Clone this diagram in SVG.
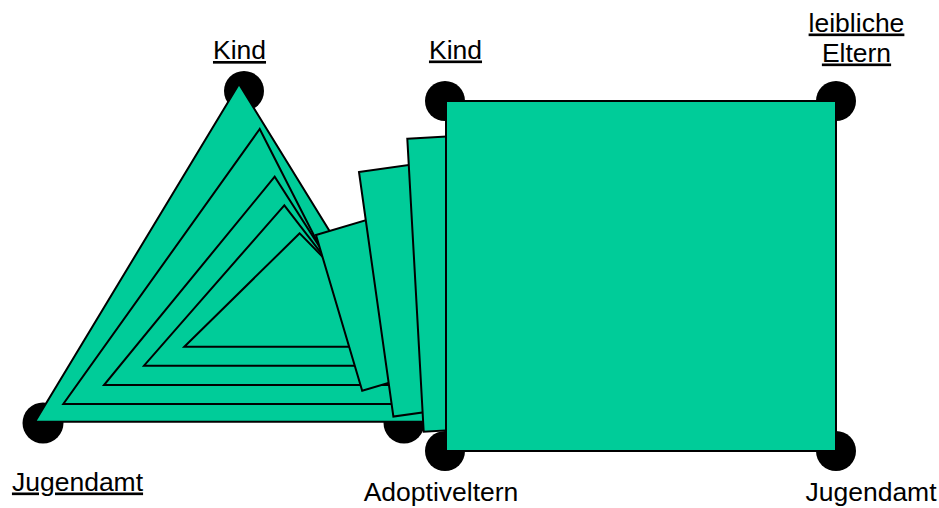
<svg xmlns="http://www.w3.org/2000/svg" width="939" height="508" viewBox="0 0 939 508">
<style>
.lbl{font-family:"Liberation Sans",Arial,sans-serif;font-size:26.5px;fill:#000;text-anchor:middle}
.u{text-decoration:underline}
.dot{fill:#000}
.sh{fill:#00CC99;stroke:#000;stroke-width:2;stroke-linejoin:miter}
</style>
<rect width="939" height="508" fill="#fff"/>
<g id="dots">
<circle class="dot" cx="244" cy="91" r="20"/>
<circle class="dot" cx="43" cy="423" r="20.5"/>
<circle class="dot" cx="404" cy="423" r="20.5"/>
<circle class="dot" cx="445" cy="101" r="20"/>
<circle class="dot" cx="445" cy="451" r="20"/>
<circle class="dot" cx="836" cy="101" r="20"/>
<circle class="dot" cx="836" cy="451" r="20"/>
</g>
<g id="triangles">
<polygon class="sh" points="239,84 35,421.7 447,421.7"/>
<polygon class="sh" points="259.7,129 63.3,404 400,404"/>
<polygon class="sh" points="274.7,176.7 104,385 408,385"/>
<polygon class="sh" points="284.3,205.3 144,365.7 408,365.7"/>
<polygon class="sh" points="299.7,233.3 184.3,346.7 410,346.7"/>
</g>
<g id="tilted-rects">
<polygon class="sh" points="316,235 402.3,209.4 448.5,365.2 362.2,390.8"/>
<polygon class="sh" points="359,172 458,158.1 492.4,402.7 393.4,416.6"/>
<polygon class="sh" points="407.3,138.7 507.1,133.1 523.5,426.1 423.7,431.7"/>
</g>
<g id="square">
<rect class="sh" x="446" y="101" width="390" height="350"/>
</g>
<g id="labels">
<text class="lbl u" x="239.5" y="59">Kind</text>
<text class="lbl u" x="455.5" y="58.5">Kind</text>
<text class="lbl u" x="856.5" y="31.5">leibliche</text>
<text class="lbl u" x="856.5" y="61.5">Eltern</text>
<text class="lbl u" x="77.5" y="490.5">Jugendamt</text>
<text class="lbl" x="441" y="501">Adoptiveltern</text>
<text class="lbl" x="871" y="501">Jugendamt</text>
</g>
</svg>
